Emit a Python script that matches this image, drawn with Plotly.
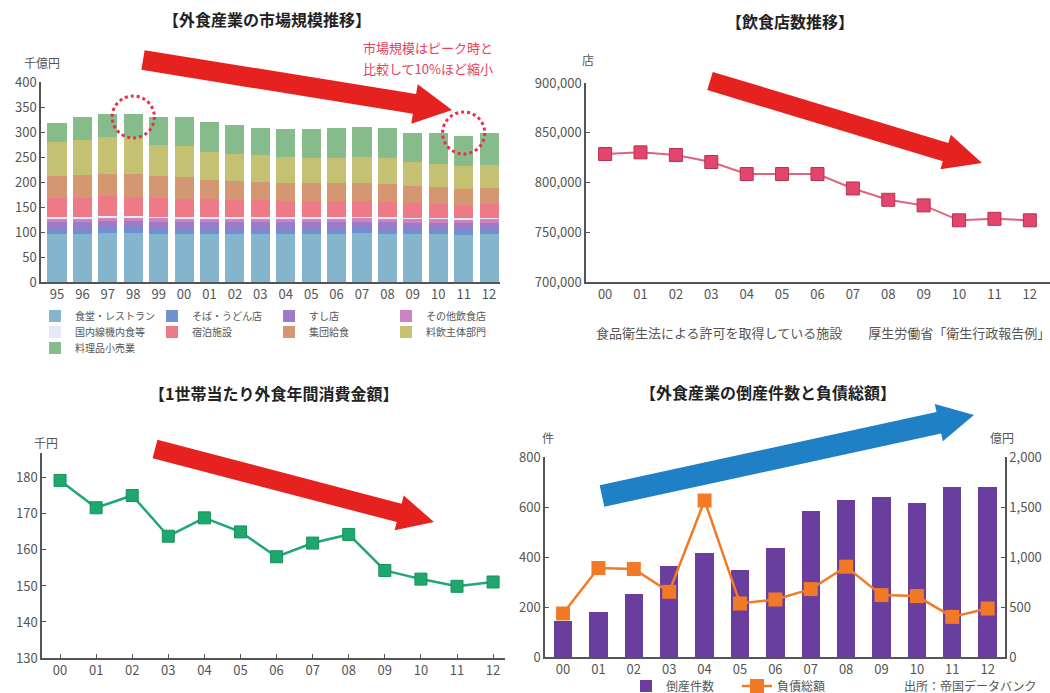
import plotly.graph_objects as go

W, H = 1050, 693
FONT = "Noto Sans CJK JP, Noto Sans, sans-serif"
AXC = "#555555"

# ---------------- Data ----------------
# Panel 1: 外食産業の市場規模推移 (千億円)
years_market = ['95', '96', '97', '98', '99', '00', '01', '02', '03', '04', '05', '06', '07', '08', '09', '10', '11', '12']
shokudo_restaurant = [97, 97, 98, 98, 97, 97, 97, 97, 97, 97, 97, 97, 98, 97, 96, 96, 95, 96]
soba_udon = [10, 10, 10, 10, 10, 10, 10, 10, 10, 10, 10, 10, 10, 10, 10, 10, 10, 10]
sushi = [13, 13, 14, 14, 14, 13, 13, 13, 13, 13, 13, 13, 13, 13, 13, 13, 13, 13]
sonota_inshoku = [7, 7, 7, 7, 7, 7, 7, 7, 7, 7, 7, 7, 7, 7, 7, 7, 7, 7]
kinaishoku = [3, 3, 3, 3, 3, 3, 3, 3, 3, 3, 3, 3, 3, 3, 3, 3, 3, 3]
shukuhaku = [38, 39, 40, 39, 38, 37, 36, 35, 34, 33, 32, 32, 32, 31, 29, 28, 26, 27]
shudan_kyushoku = [44, 45, 45, 45, 44, 44, 38, 37, 36, 36, 36, 36, 35, 35, 34, 34, 33, 33]
ryoin_shutai = [68, 71, 73, 74, 62, 61, 56, 55, 54, 51, 50, 50, 52, 52, 48, 46, 45, 45]
ryorihin_kouri = [38, 45, 47, 46, 55, 58, 60, 57, 54, 56, 58, 60, 61, 60, 59, 62, 61, 65]

market_names = ['食堂・レストラン', 'そば・うどん店', 'すし店', 'その他飲食店',
                '国内線機内食等', '宿泊施設', '集団給食', '料飲主体部門', '料理品小売業']
market_values = [shokudo_restaurant, soba_udon, sushi, sonota_inshoku, kinaishoku,
                 shukuhaku, shudan_kyushoku, ryoin_shutai, ryorihin_kouri]
market_colors = ['#84b5cd', '#7190d2', '#9c7cc6', '#cc83bf', '#e3eaf4',
                 '#ee7a88', '#d59672', '#c4c272', '#86bc8c']
market_legend = ['legend', 'legend', 'legend', 'legend',
                 'legend2', 'legend2', 'legend2', 'legend2', 'legend3']

# Panel 2: 飲食店数推移 (店)
years_00_12 = ['00', '01', '02', '03', '04', '05', '06', '07', '08', '09', '10', '11', '12']
restaurant_count = [828600, 830300, 827600, 820600, 808500, 808500, 808500,
                    794000, 782600, 777000, 762000, 763500, 762000]

# Panel 3: 1世帯当たり外食年間消費金額 (千円)
household_spending = [179.3, 171.7, 175.1, 163.8, 168.9, 165.0, 158.1,
                      161.9, 164.3, 154.3, 151.9, 149.9, 151.1]

# Panel 4: 外食産業の倒産件数と負債総額
bankruptcies = [144, 182, 254, 365, 415, 348, 437, 585, 628, 640, 615, 682, 682]
total_debt = [435, 890, 880, 652, 1565, 535, 575, 679, 903, 619, 609, 401, 485]


def px(x):
    return x / W


def py(y):
    return 1 - y / H


fig = go.Figure()

# ---------------- Panel 1 ----------------
for name, vals, col, lg in zip(market_names, market_values, market_colors, market_legend):
    fig.add_trace(go.Bar(
        x=years_market, y=vals, name=name, marker_color=col, marker_line_width=0,
        width=0.75, xaxis='x', yaxis='y', legend=lg,
    ))

# ---------------- Panel 2 ----------------
fig.add_trace(go.Scatter(
    x=years_00_12, y=restaurant_count, mode='lines+markers', showlegend=False,
    line=dict(color='#e0627f', width=2),
    marker=dict(symbol='square', size=13, color='#e2466c', line=dict(color='#b8304f', width=1)),
    xaxis='x2', yaxis='y2',
))

# ---------------- Panel 3 ----------------
fig.add_trace(go.Scatter(
    x=years_00_12, y=household_spending, mode='lines+markers', showlegend=False,
    line=dict(color='#22a678', width=2.5),
    marker=dict(symbol='square', size=12, color='#1fa86e', line=dict(color='#17905c', width=1)),
    xaxis='x3', yaxis='y3',
))

# ---------------- Panel 4 ----------------
fig.add_trace(go.Bar(
    x=years_00_12, y=bankruptcies, name='倒産件数', marker_color='#6a3e9e',
    marker_line_width=0, width=0.52, xaxis='x4', yaxis='y4', legend='legend4',
))
fig.add_trace(go.Scatter(
    x=years_00_12, y=total_debt, name='負債総額', mode='lines+markers',
    line=dict(color='#f27a27', width=2.5),
    marker=dict(symbol='square', size=14, color='#f27a27'),
    xaxis='x4', yaxis='y5', legend='legend4',
))

tickfont = dict(family=FONT, size=13, color=AXC)
common_axis = dict(showline=True, linecolor=AXC, linewidth=1.5, showgrid=False,
                   zeroline=False, ticks='inside', ticklen=4, tickcolor=AXC,
                   tickfont=tickfont, automargin=False)

layout = dict(
    width=W, height=H, autosize=False,
    margin=dict(l=0, r=0, t=0, b=0, pad=0, autoexpand=False),
    paper_bgcolor='white', plot_bgcolor='rgba(0,0,0,0)',
    barmode='stack',
    font=dict(family=FONT, color=AXC),
    xaxis=dict(common_axis, type='category', domain=[px(41), px(500)],
               range=[-0.63, 17.43], anchor='y', ticks=''),
    yaxis=dict(common_axis, domain=[py(282), py(82)], range=[0, 400], dtick=50, anchor='x'),
    xaxis2=dict(common_axis, type='category', domain=[px(586), 1.0],
                range=[-0.54, 12.57], anchor='y2', ticks=''),
    yaxis2=dict(common_axis, domain=[py(282), py(83)], range=[700000, 900000],
                dtick=50000, tickformat=',', anchor='x2'),
    xaxis3=dict(common_axis, type='category', domain=[px(42), px(505)],
                range=[-0.5, 12.33], anchor='y3'),
    yaxis3=dict(common_axis, domain=[py(658), py(453)], range=[130, 186.9],
                dtick=10, anchor='x3'),
    xaxis4=dict(common_axis, type='category', domain=[px(545), px(1005)],
                range=[-0.51, 12.49], anchor='y4', ticks=''),
    yaxis4=dict(common_axis, domain=[py(657), py(457)], range=[0, 800], dtick=200, anchor='x4'),
    yaxis5=dict(common_axis, overlaying='y4', side='right', anchor='x4',
                range=[0, 2000], dtick=500, tickformat=','),
)

leg_common = dict(orientation='h', xanchor='left', yanchor='middle',
                  bgcolor='rgba(0,0,0,0)', traceorder='normal',
                  font=dict(family=FONT, size=10, color=AXC), entrywidth=72)
layout['legend'] = dict(leg_common, x=px(35), y=py(316))
layout['legend2'] = dict(leg_common, x=px(35), y=py(332))
layout['legend3'] = dict(leg_common, x=px(35), y=py(348))
layout['legend4'] = dict(leg_common, x=px(626), y=py(686), entrywidth=66,
                         font=dict(family=FONT, size=12, color=AXC))

fig.update_layout(**layout)

# ---------------- Titles & labels ----------------
def text(x, y, s, size=13, color=AXC, bold=False, xanchor='center'):
    fig.add_annotation(
        x=px(x), y=py(y), xref='paper', yref='paper', text=s, showarrow=False,
        xanchor=xanchor, yanchor='middle',
        font=dict(family=FONT, size=size, color=color, weight='bold' if bold else 'normal'),
    )

text(267, 19, '【外食産業の市場規模推移】', size=16, color='#222', bold=True)
text(790, 21, '【飲食店数推移】', size=16, color='#222', bold=True)
text(273, 393, '【1世帯当たり外食年間消費金額】', size=16, color='#222', bold=True)
text(768, 392, '【外食産業の倒産件数と負債総額】', size=16, color='#222', bold=True)

text(22, 62, '千億円', size=12, xanchor='left')
text(580, 60, '店', size=12, xanchor='left')
text(32, 442, '千円', size=12, xanchor='left')
text(540, 437, '件', size=12, xanchor='left')
text(988, 437, '億円', size=12, xanchor='left')

text(428, 48, '市場規模はピーク時と', size=13, color='#e8405a')
text(428, 68, '比較して10%ほど縮小', size=13, color='#e8405a')

text(594, 332, '食品衛生法による許可を取得している施設　　厚生労働省「衛生行政報告例」',
     size=13, xanchor='left')
text(902, 685, '出所：帝国データバンク', size=12, xanchor='left')


# ---------------- Decorative arrows & circles ----------------
def arrow_path(tail, tip, shaft_w, head_w, head_len):
    (x0, y0), (x1, y1) = tail, tip
    dx, dy = x1 - x0, y1 - y0
    L = (dx * dx + dy * dy) ** 0.5
    ux, uy = dx / L, dy / L
    nx, ny = -uy, ux
    bx, by = x1 - ux * head_len, y1 - uy * head_len
    pts = [
        (x0 + nx * shaft_w / 2, y0 + ny * shaft_w / 2),
        (bx + nx * shaft_w / 2, by + ny * shaft_w / 2),
        (bx + nx * head_w / 2, by + ny * head_w / 2),
        (x1, y1),
        (bx - nx * head_w / 2, by - ny * head_w / 2),
        (bx - nx * shaft_w / 2, by - ny * shaft_w / 2),
        (x0 - nx * shaft_w / 2, y0 - ny * shaft_w / 2),
    ]
    return 'M ' + ' L '.join(f'{px(a):.5f},{py(b):.5f}' for a, b in pts) + ' Z'


RED = '#e5221f'
BLUE = '#1f80c6'
arrows = [
    ((143, 60), (452, 110), 20, 40, 38, RED),
    ((710, 81), (982, 163), 19, 36, 38, RED),
    ((155, 449), (434, 522), 19, 36, 36, RED),
    ((602, 496), (974, 415), 22, 38, 36, BLUE),
]
for tail, tip, sw, hw, hl, col in arrows:
    fig.add_shape(type='path', xref='paper', yref='paper', path=arrow_path(tail, tip, sw, hw, hl),
                  fillcolor=col, line=dict(width=0), layer='above')

for cx, cy in [(3, 330), (16, 298)]:
    fig.add_shape(type='circle', xref='x', yref='y', x0=cx - 0.83, x1=cx + 0.83,
                  y0=cy - 42, y1=cy + 42, line=dict(color='#e8304a', width=3, dash='dot'),
                  layer='above')

fig.write_html('out.html', config={'displayModeBar': False},
               post_script="document.body.style.margin='0px';document.body.style.overflow='hidden';")
